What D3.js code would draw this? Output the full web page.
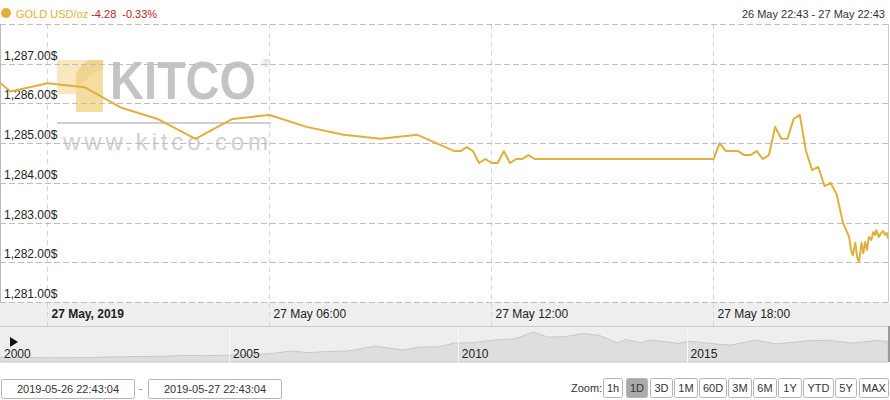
<!DOCTYPE html>
<html>
<head>
<meta charset="utf-8">
<script src="https://cdn.jsdelivr.net/npm/d3@7"></script>
<style>
  html, body { margin: 0; padding: 0; background: #fff; }
  svg { display: block; font-family: "Liberation Sans", Arial, sans-serif; }
</style>
</head>
<body>
<svg id="chart" width="890" height="400"></svg>
<script>
// ---------------- DATA ----------------
const priceTimes = [
  "2019-05-26 22:43", "2019-05-26 23:00", "2019-05-27 00:00", "2019-05-27 01:00",
  "2019-05-27 02:00", "2019-05-27 03:00", "2019-05-27 04:00", "2019-05-27 05:00",
  "2019-05-27 06:00", "2019-05-27 07:00", "2019-05-27 08:00", "2019-05-27 09:00",
  "2019-05-27 10:00", "2019-05-27 11:00", "2019-05-27 11:10", "2019-05-27 11:20",
  "2019-05-27 11:30", "2019-05-27 11:40", "2019-05-27 11:50", "2019-05-27 12:00",
  "2019-05-27 12:10", "2019-05-27 12:20", "2019-05-27 12:30", "2019-05-27 12:40",
  "2019-05-27 12:50", "2019-05-27 13:00", "2019-05-27 13:10", "2019-05-27 18:00",
  "2019-05-27 18:10", "2019-05-27 18:20", "2019-05-27 18:30", "2019-05-27 18:40",
  "2019-05-27 18:50", "2019-05-27 19:00", "2019-05-27 19:10", "2019-05-27 19:20",
  "2019-05-27 19:30", "2019-05-27 19:40", "2019-05-27 19:50", "2019-05-27 20:00",
  "2019-05-27 20:10", "2019-05-27 20:20", "2019-05-27 20:30", "2019-05-27 20:40",
  "2019-05-27 20:50", "2019-05-27 21:00", "2019-05-27 21:10", "2019-05-27 21:20",
  "2019-05-27 21:30", "2019-05-27 21:40", "2019-05-27 21:43", "2019-05-27 21:46",
  "2019-05-27 21:50", "2019-05-27 21:53", "2019-05-27 21:56", "2019-05-27 22:00",
  "2019-05-27 22:03", "2019-05-27 22:06", "2019-05-27 22:09", "2019-05-27 22:12",
  "2019-05-27 22:16", "2019-05-27 22:19", "2019-05-27 22:22", "2019-05-27 22:24",
  "2019-05-27 22:28", "2019-05-27 22:32", "2019-05-27 22:35", "2019-05-27 22:38",
  "2019-05-27 22:41", "2019-05-27 22:43"
];
const priceValues = [
  1286.52, 1286.30, 1286.51, 1286.41,
  1285.89, 1285.60, 1285.11, 1285.61,
  1285.71, 1285.41, 1285.21, 1285.11,
  1285.21, 1284.80, 1284.80, 1284.90,
  1284.80, 1284.50, 1284.60, 1284.50,
  1284.50, 1284.80, 1284.50, 1284.60,
  1284.60, 1284.70, 1284.60, 1284.60,
  1285.00, 1284.80, 1284.80, 1284.80,
  1284.70, 1284.70, 1284.80, 1284.60,
  1284.70, 1285.41, 1285.11, 1285.11,
  1285.61, 1285.71, 1284.80, 1284.32,
  1284.40, 1283.92, 1284.00, 1283.70,
  1282.99, 1282.64, 1282.31, 1282.18,
  1282.49, 1282.13, 1282.01, 1282.49,
  1282.23, 1282.51, 1282.31, 1282.64,
  1282.56, 1282.76, 1282.69, 1282.81,
  1282.64, 1282.74, 1282.79, 1282.69,
  1282.74, 1282.60
];
const rangeStart = "2019-05-26 22:43";
const rangeEnd = "2019-05-27 22:43";
const yTicks = [1281, 1282, 1283, 1284, 1285, 1286, 1287];
const xTickTimes = ["2019-05-27 00:00", "2019-05-27 06:00", "2019-05-27 12:00", "2019-05-27 18:00"];
const xTickLabels = ["27 May, 2019", "27 May 06:00", "27 May 12:00", "27 May 18:00"];

const navDates = [
  "2000-01-01", "2000-07-01", "2001-01-01", "2001-07-01", "2002-01-01", "2002-07-01",
  "2003-01-01", "2003-07-01", "2004-01-01", "2004-07-01", "2005-01-01", "2005-07-01",
  "2006-01-01", "2006-05-01", "2006-10-01", "2007-03-01", "2007-08-01", "2008-01-01",
  "2008-03-15", "2008-10-15", "2009-03-01", "2009-08-01", "2009-12-01", "2010-05-01",
  "2010-11-01", "2011-04-01", "2011-09-01", "2011-12-20", "2012-05-01", "2012-10-01",
  "2013-02-01", "2013-06-30", "2013-09-01", "2014-01-01", "2014-03-15", "2014-11-01",
  "2015-01-20", "2015-07-01", "2015-12-15", "2016-07-01", "2016-12-15", "2017-09-01",
  "2018-01-25", "2018-08-15", "2019-02-20", "2019-05-27"
];
const navValues = [
  285, 285, 265, 268, 280, 315,
  345, 350, 410, 395, 425, 435,
  550, 680, 590, 660, 680, 890,
  1000, 750, 930, 950, 1180, 1200,
  1380, 1450, 1880, 1550, 1580, 1780,
  1670, 1200, 1400, 1210, 1380, 1160,
  1300, 1160, 1050, 1360, 1130, 1330,
  1360, 1180, 1340, 1285
];
const navYearLabels = ["2000", "2005", "2010", "2015"];

const zoomButtons = ["1h", "1D", "3D", "1M", "60D", "3M", "6M", "1Y", "YTD", "5Y", "MAX"];
const activeZoom = "1D";
const dateInputs = ["2019-05-26 22:43:04", "2019-05-27 22:43:04"];

const headerName = "GOLD USD/oz";
const headerChange = "-4.28";
const headerPct = "-0.33%";
const headerRange = "26 May 22:43 - 27 May 22:43";

// ---------------- DRAW ----------------
const svg = d3.select("#chart");
const parseT = d3.timeParse("%Y-%m-%d %H:%M");
const parseD = d3.timeParse("%Y-%m-%d");
const gold = "#e0b03c";

const plot = { left: 0, right: 888, top: 24, bottom: 302 };
const x = d3.scaleTime().domain([parseT(rangeStart), parseT(rangeEnd)]).range([plot.left, plot.right]);
const y = d3.scaleLinear().domain([1281, 1288]).range([plot.bottom, plot.top]);

// header
svg.append("circle").attr("cx", 6).attr("cy", 13).attr("r", 5).attr("fill", gold);
const ht = svg.append("text").attr("x", 16).attr("y", 18).attr("font-size", 11);
ht.append("tspan").attr("fill", gold).text(headerName + " ");
ht.append("tspan").attr("fill", "#c3201f").text(headerChange);
ht.append("tspan").attr("fill", "#c3201f").attr("dx", 6).text(headerPct);
svg.append("text").attr("x", 885).attr("y", 18).attr("font-size", 11)
  .attr("text-anchor", "end").attr("fill", "#333").text(headerRange);

// watermark
const wm = svg.append("g");
wm.append("path")
  .attr("d", "M57,60 H103 V112 H76 V94 H57 Z")
  .attr("fill", "#f5dda0");
wm.append("path")
  .attr("d", "M57,60 H88 Q80,66 76,74 V94 H57 Z")
  .attr("fill", "#f9e8bd");
wm.append("path")
  .attr("d", "M88,60 H103 V70 Q92,72 88,78 L76,86 V74 Q80,66 88,60 Z")
  .attr("fill", "#f1d48d");
const kitco = wm.append("text").attr("x", 0).attr("y", 0).attr("font-size", 54)
  .attr("font-weight", "bold").attr("fill", "#c4c4c4").text("KITCO");
const kw = kitco.node().getComputedTextLength() || 168;
kitco.attr("transform", `translate(110,99) scale(${146 / kw},1)`);
wm.append("text").attr("x", 262).attr("y", 67).attr("font-size", 11)
  .attr("fill", "#cfcfcf").text("®");
wm.append("line").attr("x1", 57).attr("x2", 271).attr("y1", 123).attr("y2", 123)
  .attr("stroke", "#cfcfcf").attr("stroke-width", 2);
wm.append("text").attr("x", 63).attr("y", 150).attr("font-size", 24)
  .attr("fill", "#d0d0d0").attr("textLength", 205).attr("lengthAdjust", "spacing")
  .text("www.kitco.com");

// axis band
svg.append("rect").attr("x", 0).attr("y", plot.bottom).attr("width", 890).attr("height", 24)
  .attr("fill", "#efefef");

// vertical grid lines
svg.append("g").selectAll("line").data(xTickTimes).join("line")
  .attr("x1", d => Math.round(x(parseT(d))) + 0.5).attr("x2", d => Math.round(x(parseT(d))) + 0.5)
  .attr("y1", plot.top).attr("y2", 326)
  .attr("stroke", "#d2d2ea").attr("stroke-dasharray", "5,4");

// horizontal grid lines
svg.append("g").selectAll("line").data(yTicks).join("line")
  .attr("x1", plot.left).attr("x2", plot.right)
  .attr("y1", d => Math.round(y(d)) + 0.5).attr("y2", d => Math.round(y(d)) + 0.5)
  .attr("stroke", "#bdbdbd").attr("stroke-dasharray", "6,3");

// top dashed border
svg.append("line").attr("x1", 0).attr("x2", plot.right).attr("y1", plot.top + 0.5).attr("y2", plot.top + 0.5)
  .attr("stroke", "#bdbdbd").attr("stroke-dasharray", "6,3");
// left and right borders
svg.append("line").attr("x1", 0.5).attr("x2", 0.5).attr("y1", plot.top).attr("y2", plot.bottom)
  .attr("stroke", "#bbb");
svg.append("line").attr("x1", plot.right + 0.5).attr("x2", plot.right + 0.5).attr("y1", plot.top).attr("y2", plot.bottom)
  .attr("stroke", "#ccc");

// y labels
svg.append("g").selectAll("text").data(yTicks).join("text")
  .attr("x", 4).attr("y", d => y(d) - 4).attr("font-size", 12).attr("fill", "#222")
  .text(d => d3.format(",.2f")(d) + "$");

// x labels
svg.append("g").selectAll("text").data(xTickTimes).join("text")
  .attr("x", d => x(parseT(d)) + 4).attr("y", 318).attr("font-size", 12).attr("fill", "#222")
  .attr("font-weight", (d, i) => i === 0 ? "bold" : "normal")
  .text((d, i) => xTickLabels[i]);

// price line
const priceData = priceTimes.map((t, i) => ({ t: parseT(t), v: priceValues[i] }));
svg.append("path").datum(priceData)
  .attr("fill", "none").attr("stroke", gold).attr("stroke-width", 2)
  .attr("stroke-linejoin", "round")
  .attr("d", d3.line().x(d => x(d.t)).y(d => y(d.v)));

// navigator
const nav = { top: 326, bottom: 362 };
svg.append("rect").attr("x", 0).attr("y", nav.top).attr("width", 890).attr("height", nav.bottom - nav.top)
  .attr("fill", "#eeeeee");
svg.append("line").attr("x1", 0).attr("x2", 890).attr("y1", nav.top + 0.5).attr("y2", nav.top + 0.5)
  .attr("stroke", "#cfcfcf");
const nx = d3.scaleTime().domain([parseD("2000-01-01"), parseD("2019-05-27")]).range([0, 888]);
const ny = d3.scaleLinear().domain([0, 2250]).range([nav.bottom, nav.top]);
const navData = navDates.map((d, i) => ({ t: parseD(d), v: navValues[i] }));
svg.append("path").datum(navData)
  .attr("fill", "#dedede").attr("stroke", "#c8c8c8").attr("stroke-width", 1)
  .attr("d", d3.area().x(d => nx(d.t)).y0(nav.bottom).y1(d => ny(d.v)).curve(d3.curveLinear));
svg.append("g").selectAll("line").data(navYearLabels.slice(1)).join("line")
  .attr("x1", d => Math.round(nx(parseD(d + "-01-01"))) + 0.5)
  .attr("x2", d => Math.round(nx(parseD(d + "-01-01"))) + 0.5)
  .attr("y1", nav.top + 1).attr("y2", nav.bottom)
  .attr("stroke", "#f8f8f8");
svg.append("g").selectAll("text").data(navYearLabels).join("text")
  .attr("x", d => nx(parseD(d + "-01-01")) + 4).attr("y", 358).attr("font-size", 12).attr("fill", "#222")
  .text(d => d);
svg.append("path").attr("d", "M10,337 L18,342 L10,347 Z").attr("fill", "#111");
svg.append("line").attr("x1", 889).attr("x2", 889).attr("y1", nav.top).attr("y2", nav.bottom)
  .attr("stroke", "#999").attr("stroke-width", 2);

// date inputs
const inputs = svg.append("g");
const inputX = [1, 148];
dateInputs.forEach((s, i) => {
  inputs.append("rect").attr("x", inputX[i] + 0.5).attr("y", 379.5).attr("width", 133).attr("height", 19)
    .attr("rx", 2).attr("fill", "#fff").attr("stroke", "#b5b5b5");
  inputs.append("text").attr("x", inputX[i] + 67).attr("y", 393).attr("font-size", 11)
    .attr("text-anchor", "middle").attr("fill", "#333").text(s);
});
inputs.append("text").attr("x", 140.5).attr("y", 392).attr("font-size", 11)
  .attr("text-anchor", "middle").attr("fill", "#888").text("-");

// zoom buttons
const zb = svg.append("g");
zb.append("text").attr("x", 571).attr("y", 392).attr("font-size", 11).attr("fill", "#333").text("Zoom:");
const btnX = [603, 626, 650, 674, 699, 728, 753, 778, 803, 835, 859];
const btnW = [19, 21, 22, 23, 27, 23, 23, 23, 30, 21, 29];
zoomButtons.forEach((b, i) => {
  zb.append("rect").attr("x", btnX[i] + 0.5).attr("y", 378.5).attr("width", btnW[i]).attr("height", 19)
    .attr("rx", 2).attr("fill", b === activeZoom ? "#aaaaaa" : "#fff").attr("stroke", "#b5b5b5");
  zb.append("text").attr("x", btnX[i] + btnW[i] / 2 + 0.5).attr("y", 392).attr("font-size", 11)
    .attr("text-anchor", "middle").attr("fill", "#333").text(b);
});
</script>
</body>
</html>
